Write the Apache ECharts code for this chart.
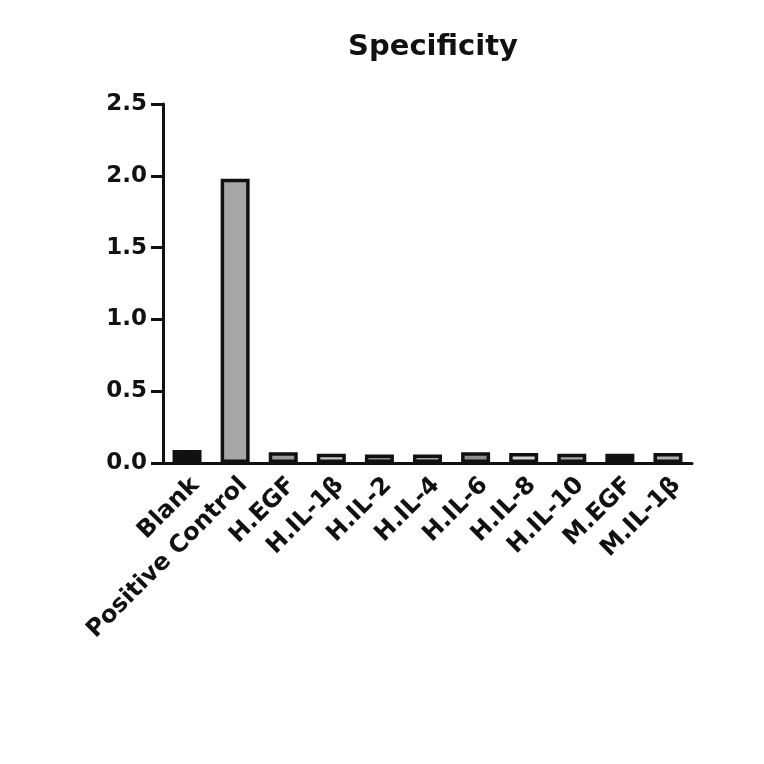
<!DOCTYPE html>
<html>
<head>
<meta charset="utf-8">
<script src="https://cdn.jsdelivr.net/npm/echarts@6/dist/echarts.min.js"></script>
<style>
html, body { margin: 0; padding: 0; background: #fff; }
#main { width: 764px; height: 764px; }
</style>
</head>
<body>
<div id="main"></div>
<script>
// categories and values
var categories = ['Blank', 'Positive Control', 'H.EGF', 'H.IL-1β', 'H.IL-2', 'H.IL-4',
    'H.IL-6', 'H.IL-8', 'H.IL-10', 'M.EGF', 'M.IL-1β'];
var values = [0.09, 1.98, 0.075, 0.065, 0.06, 0.06, 0.075, 0.07, 0.065, 0.065, 0.07];
var fills = ['#111', '#a6a6a6', '#9a9a9a', '#c8c8c8', '#8a8a8a', '#a8a8a8',
    '#8f8f8f', '#d6d6d6', '#a8a8a8', '#111', '#b0b0b0'];
var yTicks = [0, 0.5, 1.0, 1.5, 2.0, 2.5];

var myChart = echarts.init(document.getElementById('main'));

var font = 'DejaVu Sans, sans-serif';

var option = {
    animation: false,
    title: {
        text: 'Specificity',
        left: 428,
        top: 28,
        textAlign: 'center',
        textStyle: { fontFamily: font, fontWeight: 'bold', fontSize: 29, color: '#111' }
    },
    grid: { left: 163, right: 72, top: 104, bottom: 301 },
    xAxis: {
        type: 'category',
        data: categories,
        axisLine: { lineStyle: { color: '#111', width: 3 } },
        axisTick: { alignWithLabel: true, length: 12, lineStyle: { color: '#111', width: 3 } },
        axisLabel: {
            rotate: 45, interval: 0, margin: 10, verticalAlign: 'top',
            fontFamily: font, fontWeight: 'bold', fontSize: 24, color: '#111'
        }
    },
    yAxis: {
        type: 'value',
        min: yTicks[0],
        max: yTicks[yTicks.length - 1],
        interval: 0.5,
        splitLine: { show: false },
        axisLine: { show: true, lineStyle: { color: '#111', width: 3 } },
        axisTick: { show: true, length: 12, lineStyle: { color: '#111', width: 3 } },
        axisLabel: {
            margin: 16,
            fontFamily: font, fontWeight: 'bold', fontSize: 23, color: '#111',
            formatter: function (v) { return v.toFixed(1); }
        }
    },
    series: [{
        type: 'bar',
        barWidth: 29,
        data: values.map(function (v, i) {
            return { value: v, itemStyle: { color: fills[i] } };
        }),
        itemStyle: { borderColor: '#111', borderWidth: 3.5 }
    }]
};

myChart.setOption(option);
</script>
</body>
</html>
